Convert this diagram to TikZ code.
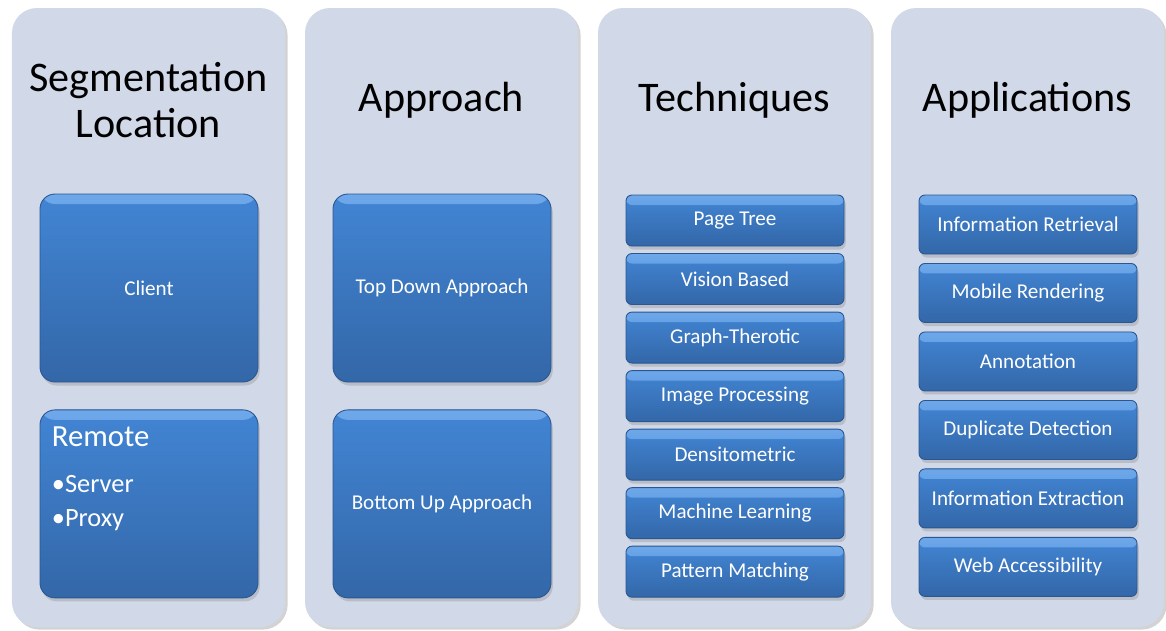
\documentclass[tikz,border=0pt]{standalone}
\usepackage{fontspec}
\setmainfont{Carlito}
\usetikzlibrary{positioning,shadows}
\definecolor{panelfill}{RGB}{209,216,232}
\definecolor{boxtop}{RGB}{66,133,212}
\definecolor{boxbot}{RGB}{51,103,168}
\definecolor{boxhi}{RGB}{110,168,234}
\definecolor{boxedge}{RGB}{42,86,145}
\tikzset{%
  % Specifications for style of nodes:
        panel/.style = {rectangle, rounded corners=0.5cm, fill=panelfill,
                        minimum width=5.46cm, minimum height=12.38cm,
                        drop shadow={shadow xshift=1.5pt, shadow yshift=-1.5pt,
                                     opacity=0.35}},
        title/.style = {align=center, text=black,
                        font=\fontsize{24}{26.6}\selectfont},
         base/.style = {rectangle, draw=boxedge, line width=0.5pt,
                        top color=boxtop, bottom color=boxbot, text=white,
                        minimum width=4.36cm, font=\fontsize{12}{14}\selectfont,
                        drop shadow={shadow xshift=1pt, shadow yshift=-2pt,
                                     opacity=0.3},
                        path picture={\shade[top color=boxhi, bottom color=boxtop]
                          (path picture bounding box.north west) rectangle
                          ([yshift=-0.2cm]path picture bounding box.north east);}},
       bigbox/.style = {base, rounded corners=0.3cm, minimum height=3.76cm},
      techbox/.style = {base, rounded corners=0.12cm, minimum height=1.02cm},
       appbox/.style = {base, rounded corners=0.12cm, minimum height=1.18cm}
}

\begin{document}
\begin{tikzpicture}
  \useasboundingbox (0,0) rectangle (23.32,-12.6);
  % Background panels
  \node (locpanel)  [panel] at (2.97,-6.35)  {};
  \node (apppanel)  [panel] at (8.83,-6.35)  {};
  \node (techpanel) [panel] at (14.69,-6.35) {};
  \node (usepanel)  [panel] at (20.55,-6.35) {};

  % Column headings
  \node (loctitle)  [title] at (2.97,-2.0)  {Segmentation\\Location};
  \node (apptitle)  [title] at (8.83,-2.0)  {Approach};
  \node (techtitle) [title] at (14.69,-2.0) {Techniques};
  \node (usetitle)  [title] at (20.55,-2.0) {Applications};

  % Segmentation location
  \node (client) [bigbox] at (2.98,-5.76) {Client};
  \node (remote) [bigbox, below=0.54cm of client] {};
  \node (remotetext) [anchor=north west, align=left, text=white, inner sep=0pt,
      font=\fontsize{15}{19.3}\selectfont]
      at ([xshift=0.24cm, yshift=-0.34cm]remote.north west)
      {{\fontsize{17.5}{21}\selectfont Remote}\\[6.7pt]•Server\\•Proxy};

  % Approach
  \node (topdown)  [bigbox] at (8.84,-5.76) {Top Down Approach};
  \node (bottomup) [bigbox, below=0.54cm of topdown] {Bottom Up Approach};

  % Techniques
  \node (pagetree) [techbox] at (14.70,-4.41)          {Page Tree};
  \node (vision)   [techbox, below=0.133cm of pagetree] {Vision Based};
  \node (graph)    [techbox, below=0.133cm of vision]   {Graph-Therotic};
  \node (image)    [techbox, below=0.133cm of graph]    {Image Processing};
  \node (density)  [techbox, below=0.133cm of image]    {Densitometric};
  \node (machine)  [techbox, below=0.133cm of density]  {Machine Learning};
  \node (pattern)  [techbox, below=0.133cm of machine]  {Pattern Matching};

  % Applications
  \node (retrieval)  [appbox] at (20.56,-4.49)             {Information Retrieval};
  \node (mobile)     [appbox, below=0.172cm of retrieval]  {Mobile Rendering};
  \node (annotation) [appbox, below=0.172cm of mobile]     {Annotation};
  \node (duplicate)  [appbox, below=0.172cm of annotation] {Duplicate Detection};
  \node (extraction) [appbox, below=0.172cm of duplicate]  {Information Extraction};
  \node (access)     [appbox, below=0.172cm of extraction] {Web Accessibility};
\end{tikzpicture}
\end{document}
